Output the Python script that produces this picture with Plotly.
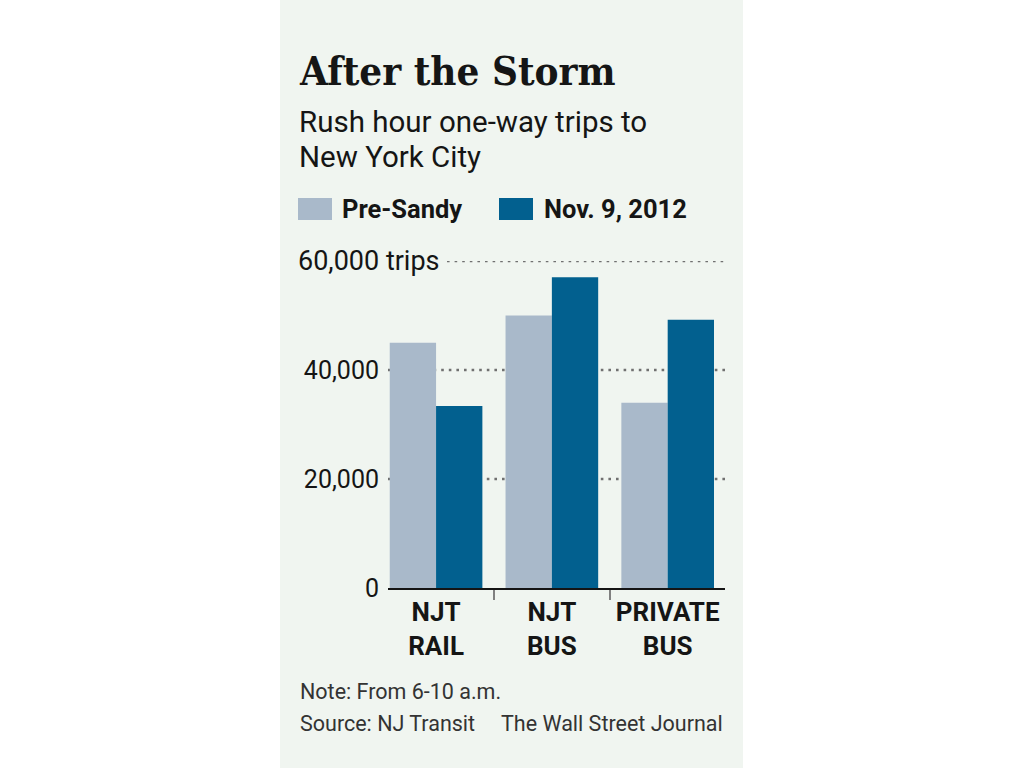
import plotly.graph_objects as go

categories = ["NJT<br>RAIL", "NJT<br>BUS", "PRIVATE<br>BUS"]
series_names = ["Pre-Sandy", "Nov. 9, 2012"]
pre_sandy = [45000, 50000, 34000]
nov_9 = [33400, 57000, 49200]
y_tickvals = [0, 20000, 40000]
y_ticktext = ["0", "20,000", "40,000"]
top_tick_value = 60000
top_tick_text = "60,000 trips"
grid_values = [20000, 40000, 60000]

LIGHT = "#a9b9ca"
DARK = "#02608f"
PANEL = "#f0f5f0"
SANS = "Roboto, 'Open Sans', sans-serif"

# body margin is removed by post_script, so the figure starts at (0, 0)
OFF = 0
FIG_W, FIG_H = 1024 - OFF, 768 - OFF
# plot area in screen pixels
L, R, T, B = 388, 725, 261, 588
W, H = R - L, B - T

def px(x):
    return (x - L) / W

def py(y):
    return (B - y) / H

fig = go.Figure()
fig.add_trace(go.Bar(x=categories, y=pre_sandy, name=series_names[0],
                     marker=dict(color=LIGHT, line=dict(width=0))))
fig.add_trace(go.Bar(x=categories, y=nov_9, name=series_names[1],
                     marker=dict(color=DARK, line=dict(width=0))))

shapes = []
shapes.append(dict(type="rect", xref="paper", yref="paper",
                   x0=px(280), x1=px(743), y0=py(790), y1=py(-20),
                   fillcolor=PANEL, line=dict(width=0), layer="below"))
for g in grid_values:
    x0 = px(447) if g == top_tick_value else 0
    shapes.append(dict(type="line", xref="paper", yref="y", x0=x0, x1=1,
                       y0=g, y1=g, layer="below",
                       line=dict(color="#707070", width=2.6, dash="2.6px,5px")))
shapes.append(dict(type="rect", xref="paper", yref="paper",
                   x0=px(298), x1=px(332), y0=py(220), y1=py(198),
                   fillcolor=LIGHT, line=dict(width=0)))
shapes.append(dict(type="rect", xref="paper", yref="paper",
                   x0=px(499), x1=px(533), y0=py(220), y1=py(198),
                   fillcolor=DARK, line=dict(width=0)))

annotations = [
    dict(text="After the Storm", x=px(297), y=py(70), xanchor="left", yanchor="middle",
         font=dict(family="'DejaVu Serif Condensed', 'DejaVu Serif', serif", size=40,
                   color="#151515", weight="bold")),
    dict(text="Rush hour one-way trips to", x=px(297), y=py(122), xanchor="left",
         yanchor="middle", font=dict(family=SANS, size=29.5, color="#151515")),
    dict(text="New York City", x=px(297), y=py(157), xanchor="left",
         yanchor="middle", font=dict(family=SANS, size=29.5, color="#151515")),
    dict(text=series_names[0], x=px(340), y=py(209), xanchor="left", yanchor="middle",
         font=dict(family=SANS, size=25.5, color="#151515", weight="bold")),
    dict(text=series_names[1], x=px(542), y=py(209), xanchor="left", yanchor="middle",
         font=dict(family=SANS, size=25.5, color="#151515", weight="bold")),
    dict(text=top_tick_text, x=px(296), y=top_tick_value, yref="y", xanchor="left",
         yanchor="middle", font=dict(family=SANS, size=27, color="#151515")),
    dict(text="Note: From 6-10 a.m.", x=px(298), y=py(691), xanchor="left",
         yanchor="middle", font=dict(family=SANS, size=21.5, color="#333333")),
    dict(text="Source: NJ Transit", x=px(298), y=py(723), xanchor="left",
         yanchor="middle", font=dict(family=SANS, size=21.5, color="#333333")),
    dict(text="The Wall Street Journal", x=px(725), y=py(723), xanchor="right",
         yanchor="middle", font=dict(family=SANS, size=21.5, color="#333333")),
]
for a in annotations:
    a.setdefault("xref", "paper")
    a.setdefault("yref", "paper")
    a["showarrow"] = False

fig.update_layout(
    width=FIG_W, height=FIG_H,
    margin=dict(l=L - OFF, r=FIG_W - (R - OFF), t=T - OFF, b=FIG_H - (B - OFF), pad=0),
    paper_bgcolor="white", plot_bgcolor="rgba(0,0,0,0)",
    barmode="group", bargap=0.2, bargroupgap=0,
    showlegend=False,
    shapes=shapes, annotations=annotations,
    xaxis=dict(range=[-0.415, 2.495], showline=True, linecolor="#151515", linewidth=2,
               ticks="outside", tickson="boundaries", ticklen=10, tickwidth=1.6,
               tickcolor="#808080", showgrid=False, zeroline=False,
               tickfont=dict(family=SANS, size=26, color="#151515", weight="bold")),
    yaxis=dict(range=[0, 60000], showgrid=False, zeroline=False, showline=False,
               tickvals=y_tickvals, ticktext=y_ticktext, ticks="",
               ticklabelstandoff=8,
               tickfont=dict(family=SANS, size=25, color="#151515")),
)

fig.write_html(
    "out.html",
    config={"displayModeBar": False},
    post_script="document.body.style.margin='0';document.body.style.overflow='hidden';",
)
